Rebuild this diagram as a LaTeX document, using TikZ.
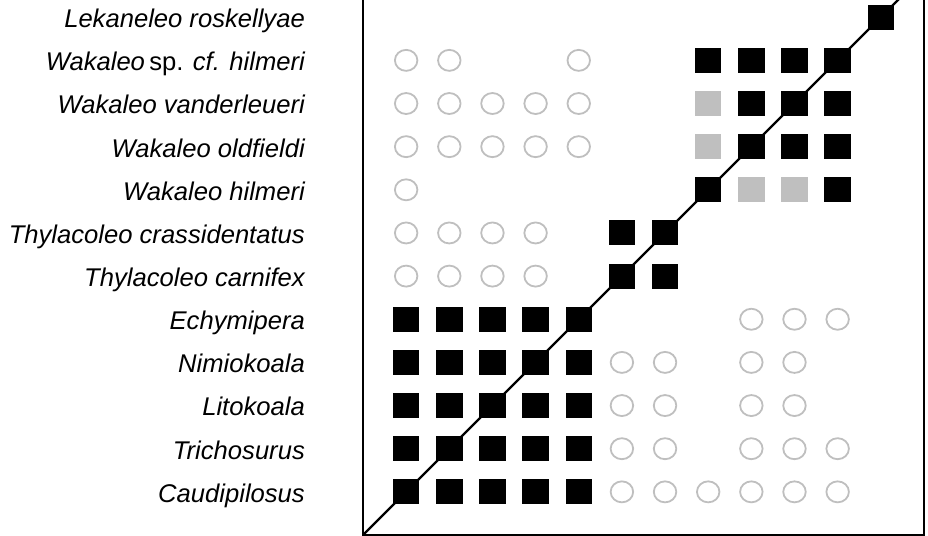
\documentclass[tikz,border=0pt]{standalone}
\usepackage{fontspec}
\setmainfont{Liberation Sans}
\usetikzlibrary{shapes.geometric}
\definecolor{markgray}{HTML}{BFBFBF}
\begin{document}
\begin{tikzpicture}[x=43.15bp,y=43.15bp,
  lab/.style={anchor=base east, font=\fontsize{25.7}{30}\selectfont\itshape, inner sep=0pt},
  blk/.style={fill=black, minimum width=26.5bp, minimum height=25bp, inner sep=0pt, outer sep=0pt},
  gry/.style={fill=markgray, minimum width=26.5bp, minimum height=25bp, inner sep=0pt, outer sep=0pt},
  circ/.style={ellipse, draw=markgray, line width=1.8bp, minimum width=22.5bp, minimum height=21bp, inner sep=0pt},
  frame/.style={draw=black, line width=2.2bp}]
\useasboundingbox (-8.413,-0.023) rectangle (13.094,12.399);
\clip (-8.413,-0.023) rectangle (13.094,12.399);
% frame and diagonal
\coordinate (bl) at (0,0);
\coordinate (tr) at (13,13);
\draw[frame] (bl) rectangle (tr);
\draw[frame] (bl) -- (tr);
% labels
\foreach \r/\t in {1/Caudipilosus, 2/Trichosurus, 3/Litokoala, 4/Nimiokoala, 5/Echymipera,
  6/Thylacoleo carnifex, 7/Thylacoleo crassidentatus, 8/Wakaleo hilmeri,
  9/Wakaleo oldfieldi, 10/Wakaleo vanderleueri, 12/Lekaneleo roskellyae}
  \node[lab] (l\r) at (-1.344,\r-0.24) {\t};
\node[lab] (l11) at (-1.344,11-0.24) {Wakaleo\,\upshape sp. \itshape cf. hilmeri};
% black squares
\foreach \c/\r in {1/1,2/1,3/1,4/1,5/1, 1/2,2/2,3/2,4/2,5/2, 1/3,2/3,3/3,4/3,5/3,
  1/4,2/4,3/4,4/4,5/4, 1/5,2/5,3/5,4/5,5/5, 6/6,7/6, 6/7,7/7, 8/8,11/8,
  9/9,10/9,11/9, 9/10,10/10,11/10, 8/11,9/11,10/11,11/11, 12/12}
  \node[blk] (b-\c-\r) at (\c,\r) {};
% grey squares
\foreach \c/\r in {9/8,10/8, 8/9, 8/10}
  \node[gry] (g-\c-\r) at (\c,\r) {};
% circles
\foreach \c/\r in {1/11,2/11,5/11, 1/10,2/10,3/10,4/10,5/10, 1/9,2/9,3/9,4/9,5/9,
  1/8, 1/7,2/7,3/7,4/7, 1/6,2/6,3/6,4/6, 9/5,10/5,11/5, 6/4,7/4,9/4,10/4,
  6/3,7/3,9/3,10/3, 6/2,7/2,9/2,10/2,11/2, 6/1,7/1,8/1,9/1,10/1,11/1}
  \node[circ] (c-\c-\r) at (\c,\r) {};
\end{tikzpicture}
\end{document}
